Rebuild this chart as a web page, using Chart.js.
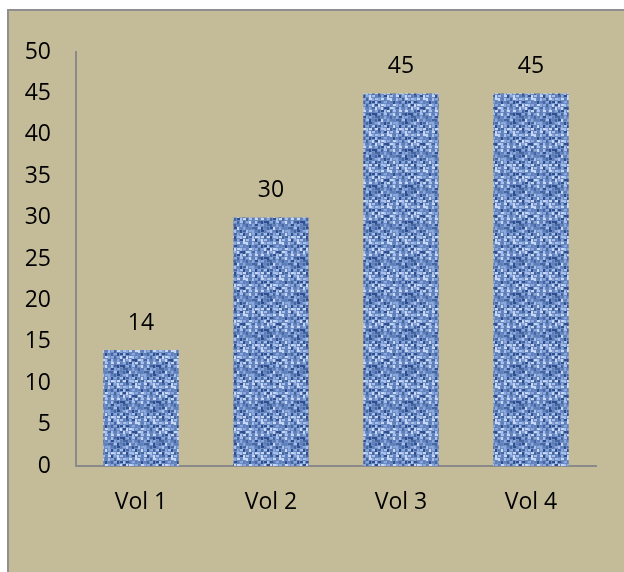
<!DOCTYPE html>
<html>
<head>
<title>Vol chart</title>
<script src="https://cdn.jsdelivr.net/npm/chart.js"></script>
<style>
  body { margin: 0; background: #ffffff; }
  #frame {
    position: absolute; left: 7px; top: 9px;
    width: 630px; height: 580px;
    border-left: 2px solid #8f8f8f; border-top: 2px solid #8f8f8f;
    background: #c4bc98; overflow: hidden;
  }
  #myChart { display: block; }
</style>
</head>
<body>
<div id="frame">
  <canvas id="myChart" width="615" height="563"></canvas>
</div>

<script>
var categories = ['Vol 1', 'Vol 2', 'Vol 3', 'Vol 4'];
var values = [14, 30, 45, 45];
var yMin = 0, yMax = 50, yStep = 5;

// woven blue texture for the bars (a tiled, slightly blurred weave)
function makeTexture() {
  var n = 36;
  var t = document.createElement('canvas');
  t.width = n; t.height = n;
  var g = t.getContext('2d');
  g.fillStyle = '#6d8cc6';
  g.fillRect(0, 0, n, n);
  var seed = 11;
  function rnd() { seed = (seed * 16807) % 2147483647; return seed / 2147483647; }
  var shades = ['#2f4f8c', '#46669f', '#5f7fbb', '#8aa8dc', '#a8c0ec', '#c6d8f6'];
  for (var y = 0; y < n; y += 3) {
    for (var x = 0; x < n; x += 3) {
      g.fillStyle = shades[Math.floor(rnd() * shades.length)];
      if (((x + y) / 3) % 2 === 0) g.fillRect(x, y, 2, 3);
      else g.fillRect(x, y, 3, 2);
    }
  }
  // blur over a 3x3 tiling so the edges stay seamless
  var big = document.createElement('canvas');
  big.width = n * 3; big.height = n * 3;
  var bg = big.getContext('2d');
  bg.filter = 'blur(0.7px)';
  for (var i = 0; i < 3; i++) for (var j = 0; j < 3; j++) bg.drawImage(t, i * n, j * n);
  var out = document.createElement('canvas');
  out.width = n; out.height = n;
  out.getContext('2d').drawImage(big, n, n, n, n, 0, 0, n, n);
  return out.getContext('2d').createPattern(out, 'repeat');
}

var valueLabels = {
  id: 'valueLabels',
  afterDatasetsDraw: function (chart) {
    var ctx = chart.ctx;
    var meta = chart.getDatasetMeta(0);
    ctx.save();
    ctx.font = '23px "Open Sans"';
    ctx.fillStyle = '#000000';
    ctx.textAlign = 'center';
    ctx.textBaseline = 'middle';
    meta.data.forEach(function (bar, i) {
      ctx.fillText(values[i], bar.x, bar.y - 27);
    });
    ctx.restore();
  }
};

var chartdata = {
  labels: categories,
  datasets: [{
    data: values,
    backgroundColor: makeTexture(),
    borderWidth: 0,
    categoryPercentage: 0.58,
    barPercentage: 1.0
  }]
};

new Chart(document.getElementById('myChart'), {
  type: 'bar',
  data: chartdata,
  options: {
    responsive: false,
    animation: false,
    layout: { padding: { left: 0, right: 28, top: 41, bottom: 0 } },
    plugins: { legend: { display: false }, tooltip: { enabled: false } },
    scales: {
      x: {
        grid: { display: false, drawTicks: false },
        border: { color: '#8a8a8a', width: 2 },
        ticks: { color: '#000000', font: { family: 'Open Sans', size: 23 }, padding: 23 },
        afterFit: function (s) { s.height = 108; }
      },
      y: {
        min: yMin, max: yMax,
        grid: { display: false, drawTicks: false },
        border: { color: '#8a8a8a', width: 2 },
        ticks: { stepSize: yStep, color: '#000000', font: { family: 'Open Sans', size: 23 }, padding: 25 },
        afterFit: function (s) { s.width = 67; }
      }
    }
  },
  plugins: [valueLabels]
});
</script>
</body>
</html>
